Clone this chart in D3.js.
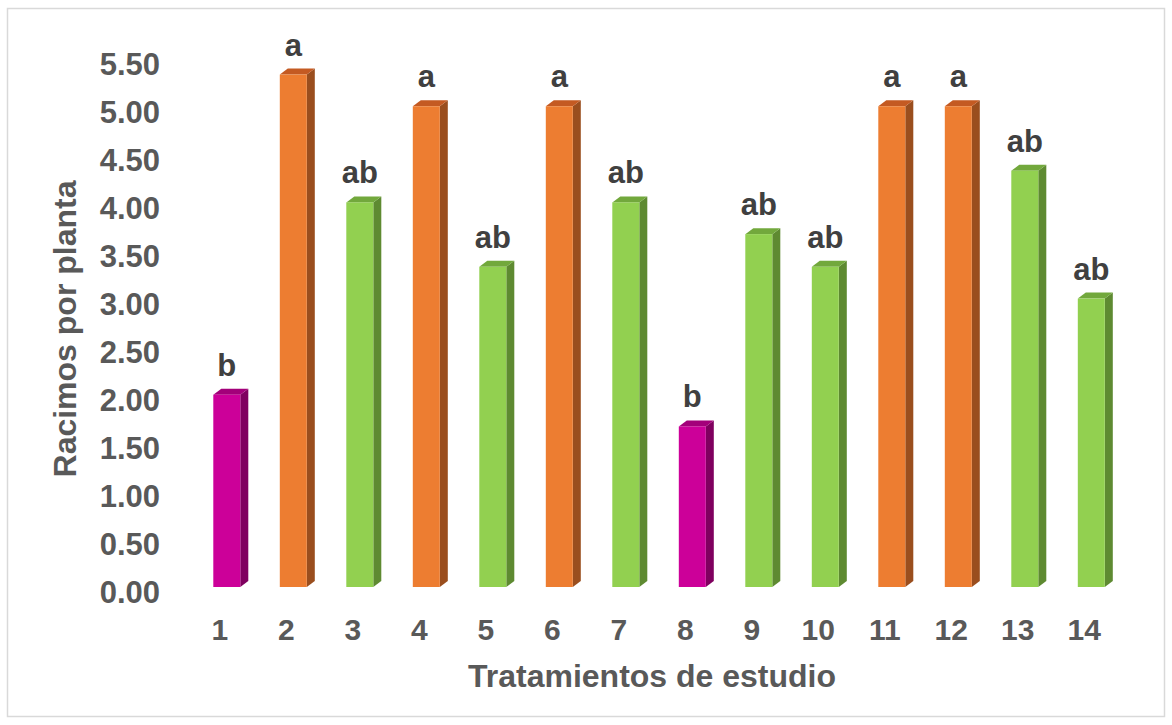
<!DOCTYPE html>
<html><head><meta charset="utf-8">
<script src="https://cdn.jsdelivr.net/npm/d3@7"></script>
<style>
html,body{margin:0;padding:0;background:#fff;}
text{font-family:"Liberation Sans",Arial,sans-serif;font-weight:bold;}
</style></head>
<body><svg id="c" width="1172" height="725"></svg>
<script>
const categories = ["1","2","3","4","5","6","7","8","9","10","11","12","13","14"];
const values = [2.00, 5.33, 4.00, 5.00, 3.33, 5.00, 4.00, 1.67, 3.67, 3.33, 5.00, 5.00, 4.33, 3.00];
const letters = ["b","a","ab","a","ab","a","ab","b","ab","ab","a","a","ab","ab"];
const groups = ["b","a","ab","a","ab","a","ab","b","ab","ab","a","a","ab","ab"];
const yTicks = [0,0.5,1,1.5,2,2.5,3,3.5,4,4.5,5,5.5];
const yTitle = "Racimos por planta";
const xTitle = "Tratamientos de estudio";

const palette = {
  b:  {front:"#CC0099", side:"#7F005F", top:"#A3007A"},
  a:  {front:"#ED7D31", side:"#9A4E1E", top:"#C45A22"},
  ab: {front:"#92D050", side:"#5E8A31", top:"#72A83C"}
};

const svg = d3.select("#c");
svg.append("rect").attr("x",7.5).attr("y",8.5).attr("width",1157).attr("height",708)
  .attr("fill","#fff").attr("stroke","#D9D9D9").attr("stroke-width",1.5);

const step = 66.5, barW = 27, dx = 8, dy = 6;
const x = d3.scaleBand().domain(categories)
  .range([213.3 - (step-barW)/2, 213.3 - (step-barW)/2 + step*categories.length])
  .paddingInner((step-barW)/step).paddingOuter((step-barW)/step/2);
const y = d3.scaleLinear().domain([0,5.5]).range([587, 587 - 5.5*96.15]);

// y tick labels
const yAxis = d3.axisLeft(y).tickValues(yTicks).tickFormat(d3.format(".2f")).tickSize(0).tickPadding(0);
const yg = svg.append("g").attr("transform","translate(160,6)").call(yAxis);
yg.select(".domain").remove();
yg.selectAll("text").attr("fill","#595959").style("font-size","31px")
  .style("font-family","'Liberation Sans',Arial,sans-serif").style("font-weight","bold");

// x tick labels
const xAxis = d3.axisBottom(x).tickSize(0).tickPadding(0);
const xg = svg.append("g").attr("transform","translate(-7,619)").call(xAxis);
xg.select(".domain").remove();
xg.selectAll("text").attr("fill","#595959").style("font-size","30px")
  .style("font-family","'Liberation Sans',Arial,sans-serif").style("font-weight","bold");

// bars
const bars = svg.append("g").selectAll("g").data(categories).join("g");
bars.each(function(c,i){
  const g = d3.select(this);
  const x0 = x(c), x1 = x0 + x.bandwidth();
  const yT = y(values[i]), y0 = y(0);
  const col = palette[groups[i]];
  g.append("path").attr("d",`M${x1},${yT}L${x1+dx},${yT-dy}L${x1+dx},${y0-dy}L${x1},${y0}Z`).attr("fill",col.side);
  g.append("path").attr("d",`M${x0},${yT}L${x0+dx},${yT-dy}L${x1+dx},${yT-dy}L${x1},${yT}Z`).attr("fill",col.top);
  g.append("rect").attr("x",x0).attr("y",yT).attr("width",x1-x0).attr("height",y0-yT).attr("fill",col.front);
  g.append("text").attr("x",(x0+x1)/2).attr("y",yT-19).attr("text-anchor","middle")
    .attr("fill","#404040").style("font-size","31px").text(letters[i]);
});

// axis titles
svg.append("text").attr("transform","translate(76,329) rotate(-90)").attr("text-anchor","middle")
  .attr("fill","#595959").style("font-size","32px").text(yTitle);
svg.append("text").attr("x",652).attr("y",687).attr("text-anchor","middle")
  .attr("fill","#595959").style("font-size","32px").text(xTitle);
</script></body></html>
